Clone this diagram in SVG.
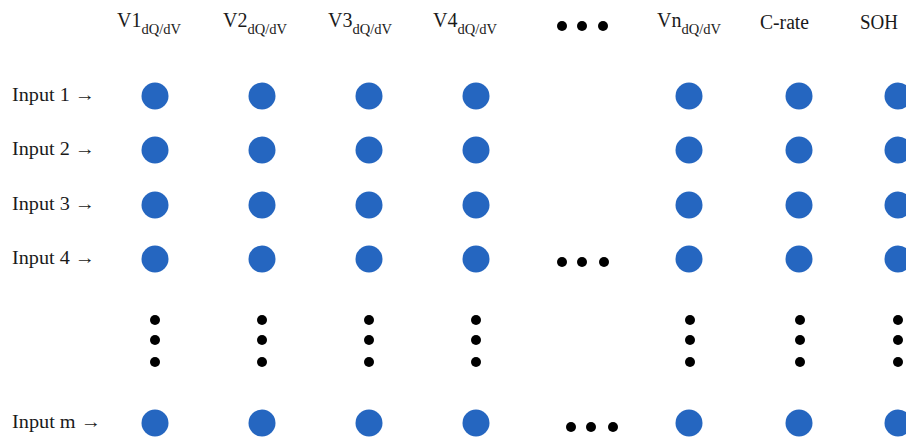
<svg xmlns="http://www.w3.org/2000/svg" width="906" height="437" viewBox="0 0 906 437">
<style>
text{font-family:"Liberation Serif","Times New Roman",serif;fill:#1a1a1a}
.h{font-size:20px}
.s{font-size:14.5px}
.lbl{font-size:19px}
.n{fill:#2566c0}
.d{fill:#000}
</style>
<rect width="906" height="437" fill="#fff"/>
<g id="headers">
<text class="h" x="117" y="27">V1<tspan class="s" dy="7">dQ/dV</tspan></text>
<text class="h" x="223" y="27">V2<tspan class="s" dy="7">dQ/dV</tspan></text>
<text class="h" x="328" y="27">V3<tspan class="s" dy="7">dQ/dV</tspan></text>
<text class="h" x="433" y="27">V4<tspan class="s" dy="7">dQ/dV</tspan></text>
<text class="h" x="657" y="27">Vn<tspan class="s" dy="7">dQ/dV</tspan></text>
<text class="h" x="760" y="29" textLength="49" lengthAdjust="spacingAndGlyphs">C-rate</text>
<text class="h" x="860" y="29" textLength="38" lengthAdjust="spacingAndGlyphs">SOH</text>
<g class="d"><circle cx="562" cy="26" r="5"/><circle cx="582" cy="26" r="5"/><circle cx="603" cy="26" r="5"/></g>
</g>
<g id="labels">
<text class="lbl" x="12" y="101" textLength="83" lengthAdjust="spacingAndGlyphs">Input 1 →</text>
<text class="lbl" x="12" y="155" textLength="83" lengthAdjust="spacingAndGlyphs">Input 2 →</text>
<text class="lbl" x="12" y="210" textLength="83" lengthAdjust="spacingAndGlyphs">Input 3 →</text>
<text class="lbl" x="12" y="264" textLength="83" lengthAdjust="spacingAndGlyphs">Input 4 →</text>
<text class="lbl" x="12" y="428" textLength="89" lengthAdjust="spacingAndGlyphs">Input m →</text>
</g>
<g id="nodes" class="n">
<g id="r1"><circle cx="155" cy="96" r="13.5"/><circle cx="262" cy="96" r="13.5"/><circle cx="369" cy="96" r="13.5"/><circle cx="476" cy="96" r="13.5"/><circle cx="689" cy="96" r="13.5"/><circle cx="799" cy="96" r="13.5"/><circle cx="898" cy="96" r="13.5"/></g>
<g id="r2"><circle cx="155" cy="150" r="13.5"/><circle cx="262" cy="150" r="13.5"/><circle cx="369" cy="150" r="13.5"/><circle cx="476" cy="150" r="13.5"/><circle cx="689" cy="150" r="13.5"/><circle cx="799" cy="150" r="13.5"/><circle cx="898" cy="150" r="13.5"/></g>
<g id="r3"><circle cx="155" cy="205" r="13.5"/><circle cx="262" cy="205" r="13.5"/><circle cx="369" cy="205" r="13.5"/><circle cx="476" cy="205" r="13.5"/><circle cx="689" cy="205" r="13.5"/><circle cx="799" cy="205" r="13.5"/><circle cx="898" cy="205" r="13.5"/></g>
<g id="r4"><circle cx="155" cy="259" r="13.5"/><circle cx="262" cy="259" r="13.5"/><circle cx="369" cy="259" r="13.5"/><circle cx="476" cy="259" r="13.5"/><circle cx="689" cy="259" r="13.5"/><circle cx="799" cy="259" r="13.5"/><circle cx="898" cy="259" r="13.5"/></g>
<g id="rm"><circle cx="155" cy="423" r="13.5"/><circle cx="262" cy="423" r="13.5"/><circle cx="369" cy="423" r="13.5"/><circle cx="476" cy="423" r="13.5"/><circle cx="689" cy="423" r="13.5"/><circle cx="799" cy="423" r="13.5"/><circle cx="898" cy="423" r="13.5"/></g>
</g>
<g id="ellipses" class="d">
<circle cx="562" cy="262" r="5"/><circle cx="582" cy="262" r="5"/><circle cx="604" cy="262" r="5"/>
<circle cx="571" cy="427" r="5"/><circle cx="591" cy="427" r="5"/><circle cx="613" cy="427" r="5"/>
<circle cx="155" cy="320" r="5"/><circle cx="155" cy="340" r="5"/><circle cx="155" cy="362" r="5"/>
<circle cx="262" cy="320" r="5"/><circle cx="262" cy="340" r="5"/><circle cx="262" cy="362" r="5"/>
<circle cx="369" cy="320" r="5"/><circle cx="369" cy="340" r="5"/><circle cx="369" cy="362" r="5"/>
<circle cx="476" cy="320" r="5"/><circle cx="476" cy="340" r="5"/><circle cx="476" cy="362" r="5"/>
<circle cx="690" cy="320" r="5"/><circle cx="690" cy="340" r="5"/><circle cx="690" cy="362" r="5"/>
<circle cx="800" cy="320" r="5"/><circle cx="800" cy="340" r="5"/><circle cx="800" cy="362" r="5"/>
<circle cx="898" cy="320" r="5"/><circle cx="898" cy="340" r="5"/><circle cx="898" cy="362" r="5"/>
</g>
<g id="connectors"></g>
</svg>
